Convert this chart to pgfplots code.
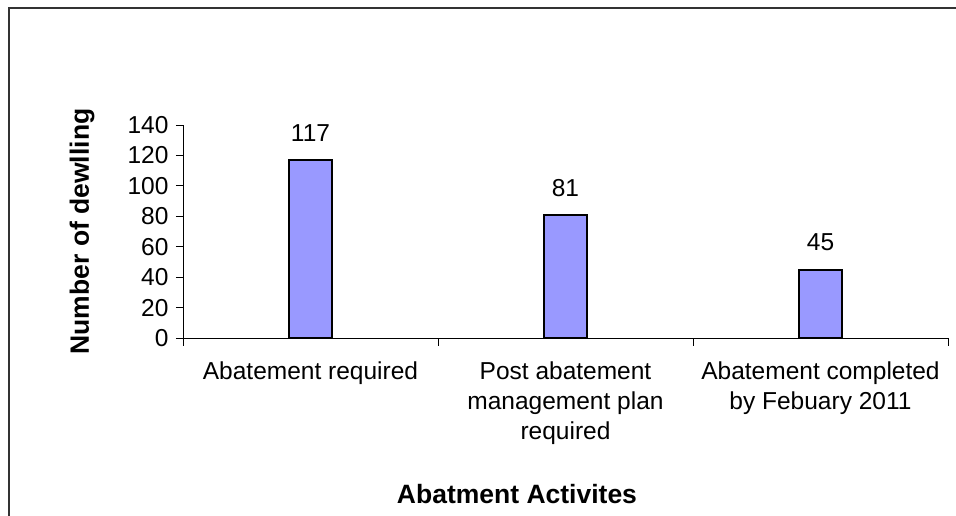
\documentclass[border=0pt]{standalone}
\usepackage{fontspec}
\setmainfont{Liberation Sans}
\usepackage{pgfplots}
\pgfplotsset{compat=1.18}
\definecolor{barblue}{HTML}{9999FF}
\begin{document}
\begin{tikzpicture}[x=1pt,y=1pt]
\useasboundingbox (0,0) rectangle (956,516);
\draw[line width=1.5pt, black!80] (9,-5) -- (9,508) -- (962,508);
\begin{axis}[
  at={(183pt,178pt)}, anchor=south west,
  scale only axis, width=765pt, height=213pt,
  xmin=-0.5, xmax=2.5, ymin=0, ymax=140,
  axis x line*=bottom, axis y line*=left,
  axis line style={line width=0.8pt},
  ybar, bar width=43pt,
  xtick={0,1,2},
  xticklabels={{Abatement required},{Post abatement\\management plan\\required},{Abatement completed\\by Febuary 2011}},
  major x tick style={draw=none},
  minor xtick={-0.5,0.5,1.5,2.5},
  minor tick style={line width=0.8pt, black},
  ytick={0,20,...,140},
  tick align=outside,
  major tick length=7pt, minor tick length=8pt,
  tick style={line width=0.8pt, black},
  x tick label style={font=\fontsize{24.5}{30}\selectfont, align=center, anchor=north, yshift=-13pt},
  y tick label style={font=\fontsize{24.5}{28}\selectfont, xshift=-4pt},
  /pgf/number format/assume math mode=true,
  nodes near coords,
  nodes near coords style={font=\fontsize{24.5}{28}\selectfont, yshift=14pt},
  xlabel={Abatment Activites},
  xlabel style={font=\bfseries\fontsize{26.5}{30}\selectfont, at={(axis description cs:0.4366,-0.732)}, anchor=center},
  ylabel={Number of dewlling},
  ylabel style={font=\bfseries\fontsize{26.5}{30}\selectfont, at={(axis description cs:-0.132,0.5)}, anchor=center},
]
\addplot[fill=barblue, draw=black, line width=2pt] coordinates {(0,117) (1,81) (2,45)};
\end{axis}
\end{tikzpicture}
\end{document}
